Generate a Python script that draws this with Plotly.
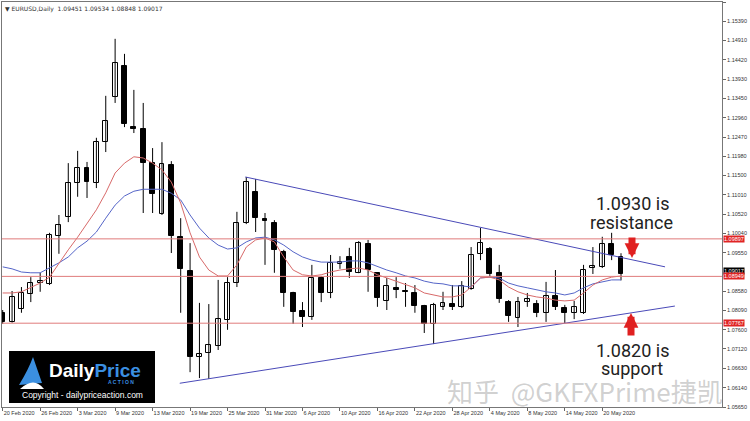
import plotly.graph_objects as go

# ---------------- data ----------------
date_ticks = [0, 4, 8, 12, 16, 20, 24, 28, 32, 36, 40, 44, 48, 52, 56, 60, 64]
date_labels = ["20 Feb 2020", "26 Feb 2020", "3 Mar 2020", "9 Mar 2020", "13 Mar 2020",
               "19 Mar 2020", "25 Mar 2020", "31 Mar 2020", "6 Apr 2020", "10 Apr 2020",
               "16 Apr 2020", "22 Apr 2020", "28 Apr 2020", "4 May 2020", "8 May 2020",
               "14 May 2020", "20 May 2020"]

opens = [1.0803, 1.0780, 1.0813, 1.0850, 1.0878, 1.0876, 1.0997, 1.1045, 1.1131, 1.1169,
         1.1131, 1.1234, 1.1348, 1.1426, 1.1272, 1.1267, 1.1181, 1.1053, 1.1176, 1.0995,
         1.0909, 1.0691, 1.0701, 1.0719, 1.0785, 1.0878, 1.1030, 1.1108, 1.1040, 1.1030,
         1.0957, 1.0853, 1.0808, 1.0792, 1.0891, 1.0853, 1.0926, 1.0944, 1.0904, 1.0977,
         1.0904, 1.0833, 1.0866, 1.0858, 1.0853, 1.0820, 1.0775, 1.0818, 1.0825, 1.0818,
         1.0863, 1.0952, 1.0964, 1.0904, 1.0830, 1.0790, 1.0830, 1.0825, 1.0803, 1.0845,
         1.0815, 1.0803, 1.0803, 1.0916, 1.0919, 1.0977, 1.09451]
highs = [1.0810, 1.0858, 1.0868, 1.0893, 1.0904, 1.1005, 1.1050, 1.1181, 1.1212, 1.1184,
         1.1245, 1.1351, 1.1495, 1.1457, 1.1366, 1.1333, 1.1219, 1.1234, 1.1186, 1.1042,
         1.0979, 1.0828, 1.0825, 1.0886, 1.0893, 1.1058, 1.1146, 1.1141, 1.1055, 1.1037,
         1.0962, 1.0856, 1.0830, 1.0924, 1.0896, 1.0949, 1.0946, 1.0967, 1.0984, 1.0987,
         1.0905, 1.0891, 1.0893, 1.0878, 1.0873, 1.0823, 1.0828, 1.0856, 1.0873, 1.0883,
         1.0969, 1.1017, 1.0969, 1.0924, 1.0835, 1.0843, 1.0853, 1.0835, 1.0881, 1.0911,
         1.0823, 1.0833, 1.0924, 1.0969, 1.0995, 1.1005, 1.09534]
lows = [1.0775, 1.0778, 1.0803, 1.0830, 1.0856, 1.0873, 1.0952, 1.1032, 1.1096, 1.1093,
        1.1118, 1.1209, 1.1333, 1.1272, 1.1257, 1.1055, 1.1055, 1.1050, 1.0954, 1.0803,
        1.0653, 1.0638, 1.0636, 1.0709, 1.0760, 1.0868, 1.1027, 1.1007, 1.0924, 1.0904,
        1.0818, 1.0775, 1.0767, 1.0785, 1.0830, 1.0840, 1.0914, 1.0891, 1.0903, 1.0856,
        1.0818, 1.0810, 1.0840, 1.0818, 1.0803, 1.0752, 1.0724, 1.0810, 1.0810, 1.0815,
        1.0861, 1.0936, 1.0893, 1.0828, 1.0780, 1.0767, 1.0818, 1.0792, 1.0780, 1.0810,
        1.0777, 1.0787, 1.0800, 1.0901, 1.0916, 1.0936, 1.08848]
closes = [1.0780, 1.0843, 1.0853, 1.0878, 1.0883, 1.1000, 1.1025, 1.1131, 1.1169, 1.1133,
          1.1234, 1.1287, 1.1434, 1.1280, 1.1267, 1.1181, 1.1103, 1.1179, 1.0997, 1.0914,
          1.0691, 1.0699, 1.0722, 1.0787, 1.0878, 1.1030, 1.1133, 1.1042, 1.1035, 1.0962,
          1.0853, 1.0805, 1.0792, 1.0891, 1.0853, 1.0929, 1.0931, 1.0906, 1.0979, 1.0911,
          1.0840, 1.0871, 1.0861, 1.0856, 1.0820, 1.0775, 1.0823, 1.0828, 1.0818, 1.0871,
          1.0949, 1.0979, 1.0901, 1.0838, 1.0795, 1.0830, 1.0838, 1.0803, 1.0845, 1.0818,
          1.0803, 1.0818, 1.0911, 1.0921, 1.0977, 1.0949, 1.09017]

ma_fast = [1.0853, 1.0853, 1.0856, 1.0866, 1.0878, 1.0893, 1.0929, 1.0962, 1.0994, 1.1030,
           1.1063, 1.1106, 1.1156, 1.1181, 1.1197, 1.1194, 1.1181, 1.1164, 1.1133, 1.1080,
           1.1005, 1.0944, 1.0911, 1.0896, 1.0896, 1.0924, 1.0969, 1.0987, 1.0992, 1.0982,
           1.0944, 1.0911, 1.0899, 1.0896, 1.0899, 1.0906, 1.0911, 1.0914, 1.0916, 1.0911,
           1.0899, 1.0891, 1.0883, 1.0876, 1.0866, 1.0853, 1.0848, 1.0843, 1.0843, 1.0848,
           1.0868, 1.0891, 1.0893, 1.0886, 1.0868, 1.0856, 1.0848, 1.0843, 1.0840, 1.0835,
           1.0833, 1.0835, 1.0853, 1.0873, 1.0886, 1.0893, 1.0896]
ma_slow = [1.0919, 1.0914, 1.0906, 1.0904, 1.0904, 1.0916, 1.0929, 1.0944, 1.0967, 1.0984,
           1.1007, 1.1042, 1.1075, 1.1098, 1.1110, 1.1115, 1.1115, 1.1115, 1.1105, 1.1088,
           1.1050, 1.1017, 1.0992, 1.0974, 1.0964, 1.0967, 1.0982, 1.0992, 1.0994, 1.0987,
           1.0974, 1.0957, 1.0944, 1.0936, 1.0931, 1.0931, 1.0931, 1.0934, 1.0934, 1.0929,
           1.0919, 1.0911, 1.0904, 1.0896, 1.0891, 1.0883, 1.0878, 1.0876, 1.0871, 1.0871,
           1.0868, 1.0891, 1.0893, 1.0891, 1.0878, 1.0871, 1.0866, 1.0861, 1.0856, 1.0853,
           1.0848, 1.0853, 1.0866, 1.0876, 1.0881, 1.0886, 1.0886]

trend_upper_x = [25.9, 70.7]
trend_upper_y = [1.1146, 1.0919]
trend_lower_x = [18.9, 71.75]
trend_lower_y = [1.0625, 1.0820]

levels = [1.09897, 1.08949, 1.07767]

y_ticks = [1.15880, 1.15390, 1.14910, 1.14420, 1.13930, 1.13450, 1.12960, 1.12470,
           1.11980, 1.11500, 1.11010, 1.10520, 1.10040, 1.09550, 1.08580,
           1.08090, 1.07600, 1.07120, 1.06630, 1.06140, 1.05650]

symbol_label = "EURUSD,Daily"
res_text = ["1.0930 is", "resistance"]
sup_text = ["1.0820 is", "support"]
watermark = "知乎&nbsp; @GKFXPrime捷凯"

# ---------------- figure ----------------
idx = list(range(len(opens)))
fig = go.Figure()

# wicks
wx, wy = [], []
for i in idx:
    wx += [i, i, None]
    wy += [lows[i], highs[i], None]
fig.add_trace(go.Scatter(x=wx, y=wy, mode="lines", line=dict(color="black", width=1),
                         hoverinfo="skip", showlegend=False))

# bodies
bull = [i for i in idx if closes[i] >= opens[i]]
bear = [i for i in idx if closes[i] < opens[i]]
fig.add_trace(go.Bar(x=bull, y=[max(closes[i] - opens[i], 0.00004) for i in bull],
                     base=[opens[i] for i in bull], width=0.52,
                     marker=dict(color="white", line=dict(color="black", width=1)),
                     showlegend=False))
fig.add_trace(go.Bar(x=bear, y=[max(opens[i] - closes[i], 0.00004) for i in bear],
                     base=[closes[i] for i in bear], width=0.52,
                     marker=dict(color="black", line=dict(color="black", width=1)),
                     showlegend=False))

# moving averages
fig.add_trace(go.Scatter(x=idx, y=ma_slow, mode="lines",
                         line=dict(color="#5565c8", width=1), showlegend=False))
fig.add_trace(go.Scatter(x=idx, y=ma_fast, mode="lines",
                         line=dict(color="#d86a6a", width=1), showlegend=False))

# trend lines
fig.add_trace(go.Scatter(x=trend_upper_x, y=trend_upper_y, mode="lines",
                         line=dict(color="#4a4ab8", width=1), showlegend=False))
fig.add_trace(go.Scatter(x=trend_lower_x, y=trend_lower_y, mode="lines",
                         line=dict(color="#4a4ab8", width=1), showlegend=False))

shapes = []
for lv in levels:
    shapes.append(dict(type="line", xref="paper", x0=0, x1=1, yref="y", y0=lv, y1=lv,
                       line=dict(color="#e07b7b", width=1)))


def px2paper(px, py):
    return (px - 2) / 720.0, (407 - py) / 405.0


# logo box
lx0, ly0 = px2paper(9, 403)
lx1, ly1 = px2paper(155, 351)
shapes.append(dict(type="rect", xref="paper", yref="paper", x0=lx0, x1=lx1, y0=ly0, y1=ly1,
                   fillcolor="black", line=dict(width=0), layer="above"))
# logo icon (sail)
p1 = px2paper(19, 385); p2 = px2paper(33, 357); p3 = px2paper(42, 383)
shapes.append(dict(type="path", xref="paper", yref="paper",
                   path=f"M{p1[0]},{p1[1]} Q{p2[0]-0.006},{p2[1]-0.03} {p2[0]},{p2[1]} L{p3[0]},{p3[1]} Z",
                   fillcolor="#3b8fe0", line=dict(width=0), layer="above"))
q1 = px2paper(20, 389); q2 = px2paper(34, 376); q3 = px2paper(44, 389)
shapes.append(dict(type="path", xref="paper", yref="paper",
                   path=f"M{q1[0]},{q1[1]} Q{q2[0]},{q2[1]} {q3[0]},{q3[1]} Z",
                   fillcolor="white", line=dict(width=0), layer="above"))

annotations = []
# header
o, h, l, c = opens[-1], highs[-1], lows[-1], closes[-1]
annotations.append(dict(xref="paper", yref="paper", x=0, y=1, xanchor="left", yanchor="top",
                        xshift=1, yshift=-1, showarrow=False,
                        text=f"▼ {symbol_label}  {o:.5f} {h:.5f} {l:.5f} {c:.5f}",
                        font=dict(size=6, color="#333", family="DejaVu Sans")))

# right price labels
annotations.append(dict(xref="paper", yref="y", x=1, y=c, xanchor="left", yanchor="middle",
                        showarrow=False, text=f"{c:.5f}", bgcolor="black",
                        font=dict(size=5.5, color="white", family="Liberation Sans"),
                        borderpad=0, xshift=1, yshift=3))
for lv in levels:
    annotations.append(dict(xref="paper", yref="y", x=1, y=lv, xanchor="left", yanchor="middle",
                            showarrow=False, text=f"{lv:.5f}", bgcolor="#e02424",
                            font=dict(size=5.5, color="white", family="Liberation Sans"),
                            borderpad=0, xshift=1))

# resistance / support texts
for txt, (px, py) in zip(res_text + sup_text, [(632, 203.5), (631, 222), (632, 350), (632, 368.5)]):
    ax_, ay_ = px2paper(px, py)
    annotations.append(dict(xref="paper", yref="paper", x=ax_, y=ay_, xanchor="center",
                            yanchor="middle", showarrow=False, text=txt, borderpad=0,
                            font=dict(size=18, color="#222", family="Roboto")))

# arrows
tx, ty = px2paper(632, 258)
annotations.append(dict(xref="paper", yref="paper", x=tx, y=ty, ax=0, ay=-22, text="",
                        showarrow=True, arrowhead=2, arrowwidth=7, arrowsize=0.42,
                        arrowcolor="#e02020"))
tx, ty = px2paper(631, 313)
annotations.append(dict(xref="paper", yref="paper", x=tx, y=ty, ax=0, ay=24, text="",
                        showarrow=True, arrowhead=2, arrowwidth=7, arrowsize=0.42,
                        arrowcolor="#e02020"))

# logo texts
x_, y_ = px2paper(95, 370.5)
annotations.append(dict(xref="paper", yref="paper", x=x_, y=y_, showarrow=False,
                        xanchor="center", yanchor="middle", borderpad=0,
                        text="<b>Daily</b><b><span style='color:#3b8fe0'>Price</span></b>",
                        font=dict(size=19, color="white", family="Liberation Sans")))
x_, y_ = px2paper(121, 381.5)
annotations.append(dict(xref="paper", yref="paper", x=x_, y=y_, showarrow=False,
                        xanchor="center", yanchor="middle", borderpad=0,
                        text="<b>A C T I O N</b>",
                        font=dict(size=5, color="#3b8fe0", family="Liberation Sans")))
x_, y_ = px2paper(82, 395)
annotations.append(dict(xref="paper", yref="paper", x=x_, y=y_, showarrow=False,
                        xanchor="center", yanchor="middle",
                        text="Copyright - dailypriceaction.com",
                        font=dict(size=8.5, color="white", family="Liberation Sans")))

# watermark
x_, y_ = px2paper(724, 390)
annotations.append(dict(xref="paper", yref="paper", x=x_, y=y_, showarrow=False,
                        xanchor="right", yanchor="middle", borderpad=0,
                        text=watermark,
                        font=dict(size=26, color="rgba(150,150,150,0.45)",
                                  family="Noto Sans CJK SC")))

fig.update_layout(
    width=750, height=421,
    margin=dict(l=2, r=28, t=2, b=14, pad=0, autoexpand=False),
    paper_bgcolor="white", plot_bgcolor="white",
    barmode="overlay", bargap=0,
    showlegend=False,
    shapes=shapes, annotations=annotations,
    xaxis=dict(range=[-0.075, 76.78], tickmode="array", tickvals=date_ticks,
               ticktext=date_labels, ticks="outside", ticklen=3, tickcolor="#666",
               ticklabelposition="outside right", tickangle=0, automargin=False,
               tickfont=dict(size=5.5, color="#333", family="Liberation Sans"),
               showgrid=False, zeroline=False, showline=True, linecolor="#777",
               linewidth=1, mirror=True),
    yaxis=dict(range=[1.0565, 1.1588], side="right", tickmode="array", tickvals=y_ticks,
               ticktext=[f"{v:.5f}" for v in y_ticks], ticks="outside", ticklen=3,
               automargin=False,
               tickcolor="#666", tickfont=dict(size=5.5, color="#333", family="Liberation Sans"),
               showgrid=False, zeroline=False, showline=True, linecolor="#777",
               linewidth=1, mirror=True),
)

fig.write_html("out.html", config={"displayModeBar": False},
               post_script="document.body.style.margin='0px';document.body.style.overflow='hidden';")
